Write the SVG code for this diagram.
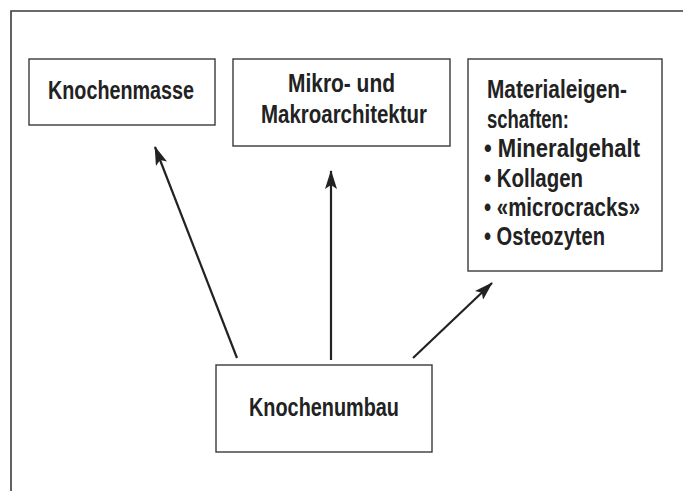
<svg xmlns="http://www.w3.org/2000/svg" width="683" height="491" viewBox="0 0 683 491">
<style>
.box{fill:#fff;stroke:#3a3a3a;stroke-width:1.4}
.frame{fill:none;stroke:#3a3a3a;stroke-width:1.6}
text{font-family:"Liberation Sans",Arial,sans-serif;font-weight:bold;font-size:25.5px;fill:#222}
.c{text-anchor:middle}
.arrow{stroke:#222;stroke-width:2.2;fill:none;marker-end:url(#ah)}
</style>
<defs>
<marker id="ah" viewBox="0 0 19 12" refX="18" refY="6" markerWidth="19" markerHeight="12" markerUnits="userSpaceOnUse" orient="auto">
<path d="M0,0 L19,6 L0,12 L4,6 Z" fill="#222"/>
</marker>
</defs>
<rect width="683" height="491" fill="#fff"/>
<path class="frame" d="M11,491 L11,11 L683,11"/>
<g id="knochenmasse">
<rect class="box" x="29" y="59" width="186" height="66"/>
<text class="c" x="121" y="99" textLength="146" lengthAdjust="spacingAndGlyphs">Knochenmasse</text>
</g>
<g id="architektur">
<rect class="box" x="233" y="59" width="217" height="87"/>
<text class="c" x="341.5" y="92" textLength="107" lengthAdjust="spacingAndGlyphs">Mikro- und</text>
<text class="c" x="344" y="123" textLength="166" lengthAdjust="spacingAndGlyphs">Makroarchitektur</text>
</g>
<g id="materialeigenschaften">
<rect class="box" x="468" y="59" width="194" height="212"/>
<text x="487" y="98" textLength="140" lengthAdjust="spacingAndGlyphs">Materialeigen-</text>
<text x="487" y="127.5" textLength="82" lengthAdjust="spacingAndGlyphs">schaften:</text>
<text x="484" y="157" textLength="156" lengthAdjust="spacingAndGlyphs">• Mineralgehalt</text>
<text x="484" y="186.5" textLength="99" lengthAdjust="spacingAndGlyphs">• Kollagen</text>
<text x="484" y="216" textLength="156" lengthAdjust="spacingAndGlyphs">• «microcracks»</text>
<text x="484" y="245" textLength="121" lengthAdjust="spacingAndGlyphs">• Osteozyten</text>
</g>
<g id="knochenumbau">
<rect class="box" x="216" y="365" width="216" height="87"/>
<text class="c" x="324" y="416" textLength="150" lengthAdjust="spacingAndGlyphs">Knochenumbau</text>
</g>
<g id="connectors">
<line class="arrow" x1="237" y1="358" x2="155" y2="147"/>
<line class="arrow" x1="331" y1="360" x2="331" y2="171"/>
<line class="arrow" x1="413" y1="358" x2="492" y2="283"/>
</g>
</svg>
